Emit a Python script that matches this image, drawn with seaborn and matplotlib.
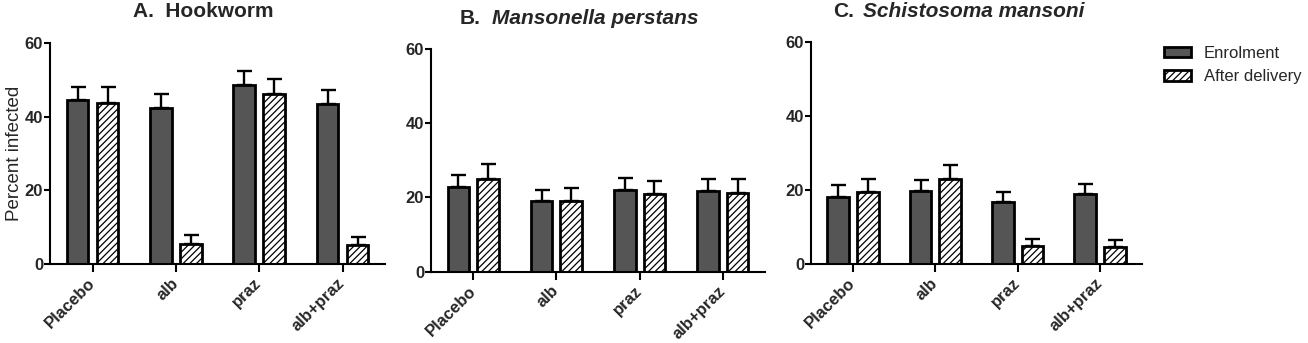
import numpy as np
import pandas as pd
import matplotlib
matplotlib.use("Agg")
import matplotlib.pyplot as plt
import seaborn as sns
from matplotlib.patches import Patch

sns.set_theme(style="ticks")
plt.rcParams['font.family'] = ['Liberation Sans', 'DejaVu Sans']
plt.rcParams['hatch.linewidth'] = 0.9

# ---- data ----
treatments = ["Placebo", "alb", "praz", "alb+praz"]
timepoints = ["Enrolment", "After delivery"]

hook_enrol = [44.5, 42.3, 48.5, 43.5]
hook_enrol_err = [3.6, 3.8, 3.9, 3.6]
hook_after = [43.8, 5.4, 46.0, 5.2]
hook_after_err = [4.1, 2.4, 4.3, 2.2]

mans_enrol = [22.9, 19.0, 21.9, 21.8]
mans_enrol_err = [3.2, 3.0, 3.3, 3.1]
mans_after = [25.0, 19.0, 20.8, 21.3]
mans_after_err = [4.0, 3.5, 3.6, 3.6]

schi_enrol = [18.3, 19.8, 16.8, 19.0]
schi_enrol_err = [3.1, 3.0, 2.7, 2.7]
schi_after = [19.5, 23.1, 4.9, 4.8]
schi_after_err = [3.5, 3.7, 1.9, 1.8]

yticks = [0, 20, 40, 60]

panels = [
    (hook_enrol, hook_enrol_err, hook_after, hook_after_err),
    (mans_enrol, mans_enrol_err, mans_after, mans_after_err),
    (schi_enrol, schi_enrol_err, schi_after, schi_after_err),
]

W, H = 1308, 343
fig = plt.figure(figsize=(W / 100, H / 100), dpi=100)

axes_px = [(50, 385, 42.7, 264.3), (431, 765, 49, 271.7), (811, 1142, 42.3, 264.3)]

dark = "#555555"
palette = {"Enrolment": dark, "After delivery": "white"}
edge_lw = 2.0

for i, (ve, ee, va, ea) in enumerate(panels):
    l, r, t, b = axes_px[i]
    ax = fig.add_axes([l / W, (H - b) / H, (r - l) / W, (b - t) / H])
    df = pd.DataFrame({
        "Treatment": treatments * 2,
        "Time": [timepoints[0]] * 4 + [timepoints[1]] * 4,
        "Percent": list(ve) + list(va),
        "Err": list(ee) + list(ea),
    })
    sns.barplot(data=df, x="Treatment", y="Percent", hue="Time", order=treatments,
                hue_order=timepoints, palette=palette, width=0.72, gap=0.27,
                errorbar=None, edgecolor="black", linewidth=edge_lw, ax=ax,
                legend=False, zorder=2)
    bar_containers = list(ax.containers)
    for ci, cont in enumerate(bar_containers):
        errs = df[df["Time"] == timepoints[ci]]["Err"].values
        xs = [p.get_x() + p.get_width() / 2 for p in cont.patches]
        hs = [p.get_height() for p in cont.patches]
        ax.errorbar(xs, hs, yerr=[np.zeros(len(errs)), errs], fmt="none",
                    ecolor="black", elinewidth=1.7, capsize=5.4, capthick=1.7, zorder=1)
        if ci == 1:
            for p in cont.patches:
                p.set_hatch("/////")
    ax.set_xlim(-0.51, 3.51)
    ax.set_ylim(0, 60)
    ax.set_yticks(yticks)
    ax.set_xlabel("")
    ax.set_ylabel("Percent infected" if i == 0 else "", fontsize=13.5, labelpad=1)
    sns.despine(ax=ax)
    for s in ["left", "bottom"]:
        ax.spines[s].set_linewidth(1.5)
        ax.spines[s].set_color("black")
    ax.tick_params(axis="y", length=4, width=1.5, pad=1, labelsize=12, color="black")
    ax.tick_params(axis="x", length=6, width=1.5, pad=6, labelsize=12, color="black")
    for lab in ax.get_yticklabels():
        lab.set_fontweight("bold")
    for lab in ax.get_xticklabels():
        lab.set_fontweight("bold")
        lab.set_rotation(45)
        lab.set_ha("right")
        lab.set_va("center")
        lab.set_rotation_mode("anchor")

# titles
tsize = 15
fig.text(133 / W, 1 - 17 / H, "A.  Hookworm", fontsize=tsize, fontweight="bold",
         ha="left", va="baseline")
fig.text(460 / W, 1 - 23.5 / H, "B.", fontsize=tsize, fontweight="bold", ha="left", va="baseline")
fig.text(492 / W, 1 - 23.5 / H, "Mansonella perstans", fontsize=tsize, fontweight="bold",
         style="italic", ha="left", va="baseline")
fig.text(833 / W, 1 - 17 / H, "C.", fontsize=tsize, fontweight="bold", ha="left", va="baseline")
fig.text(863 / W, 1 - 17 / H, "Schistosoma mansoni", fontsize=tsize, fontweight="bold",
         style="italic", ha="left", va="baseline")

handles = [Patch(facecolor=dark, edgecolor="black", linewidth=edge_lw),
           Patch(facecolor="white", edgecolor="black", linewidth=edge_lw, hatch="/////")]
fig.legend(handles, timepoints, loc="upper left", bbox_to_anchor=(1164 / W, 1 - 46 / H),
           frameon=False, fontsize=12, handlelength=1.6, handleheight=0.6,
           handletextpad=0.8, labelspacing=0.5, borderpad=0, borderaxespad=0)

fig.savefig("out.png", dpi=100)
